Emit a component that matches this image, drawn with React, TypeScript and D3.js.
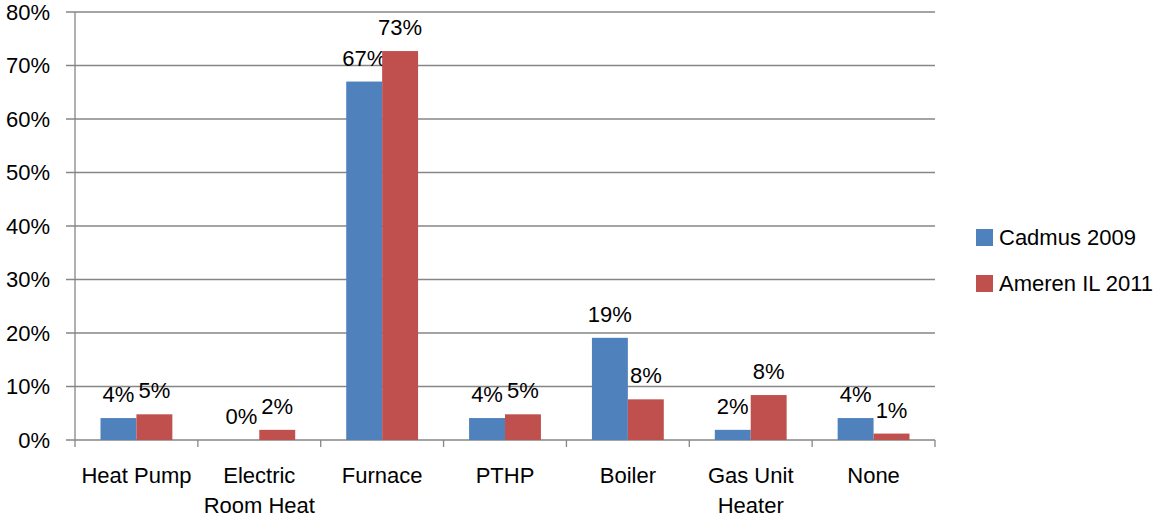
import React from "react";
import * as d3 from "d3";

const categories: string[][] = [
  ["Heat Pump"],
  ["Electric", "Room Heat"],
  ["Furnace"],
  ["PTHP"],
  ["Boiler"],
  ["Gas Unit", "Heater"],
  ["None"],
];
const seriesNames = ["Cadmus 2009", "Ameren IL 2011"];
const cadmus2009 = [4.1, 0, 67, 4.1, 19.1, 1.9, 4.1];
const amerenIL2011 = [4.8, 1.9, 72.7, 4.8, 7.6, 8.4, 1.2];
const valueLabels = [
  ["4%", "0%", "67%", "4%", "19%", "2%", "4%"],
  ["5%", "2%", "73%", "5%", "8%", "8%", "1%"],
];
const yTicks = [0, 10, 20, 30, 40, 50, 60, 70, 80];
const colors = ["#4F81BD", "#C0504D"];

const W = 1159;
const H = 519;
const FONT = "'Liberation Sans', Arial, sans-serif";

export default function App() {
  const left = 75;
  const right = 935;
  const top = 12;
  const bottom = 440;
  const seriesValues = [cadmus2009, amerenIL2011];
  const keys = categories.map((c) => c.join(" "));

  const x = d3.scaleBand<string>().domain(keys).range([left, right]).paddingInner(0).paddingOuter(0);
  const bw = x.bandwidth();
  const xs = d3.scaleBand<string>().domain(seriesNames).range([0, bw]).paddingInner(0).paddingOuter(0.71);
  const y = d3.scaleLinear().domain([0, 80]).range([bottom, top]);

  return (
    <svg width={W} height={H} style={{ position: "absolute", left: 0, top: 0, background: "#fff" }} fontFamily={FONT}>
      <rect x={0} y={0} width={W} height={H} fill="#fff" />
      {yTicks.map((t) => (
        <g key={t}>
          <line x1={66} x2={right} y1={y(t)} y2={y(t)} stroke="#868686" strokeWidth={1.3} />
          <text x={50} y={y(t)} dy="0.36em" textAnchor="end" fontSize={22} fill="#000">
            {t}%
          </text>
        </g>
      ))}
      <line x1={left} x2={left} y1={top} y2={bottom + 7} stroke="#868686" strokeWidth={1.3} />
      {keys.map((k) => (
        <line key={k} x1={(x(k) as number) + bw} x2={(x(k) as number) + bw} y1={bottom} y2={bottom + 7} stroke="#868686" strokeWidth={1.3} />
      ))}
      {keys.map((k, i) =>
        seriesNames.map((s, j) => {
          const v = seriesValues[j][i];
          const bx = (x(k) as number) + (xs(s) as number);
          return (
            <g key={k + s}>
              <rect x={bx} y={y(v)} width={xs.bandwidth()} height={bottom - y(v)} fill={colors[j]} />
              <text x={bx + xs.bandwidth() / 2} y={y(v) - 16} textAnchor="middle" fontSize={22} fill="#000">
                {valueLabels[j][i]}
              </text>
            </g>
          );
        })
      )}
      {categories.map((lines, i) => (
        <text key={i} x={(x(keys[i]) as number) + bw / 2} y={483} textAnchor="middle" fontSize={22} fill="#000">
          {lines.map((l, li) => (
            <tspan key={li} x={(x(keys[i]) as number) + bw / 2} dy={li === 0 ? 0 : 30}>
              {l}
            </tspan>
          ))}
        </text>
      ))}
      {seriesNames.map((s, j) => (
        <g key={s} transform={`translate(976, ${229 + j * 46})`}>
          <rect x={0} y={0} width={17} height={17} fill={colors[j]} />
          <text x={23} y={16} fontSize={22} fill="#000">
            {s}
          </text>
        </g>
      ))}
    </svg>
  );
}
